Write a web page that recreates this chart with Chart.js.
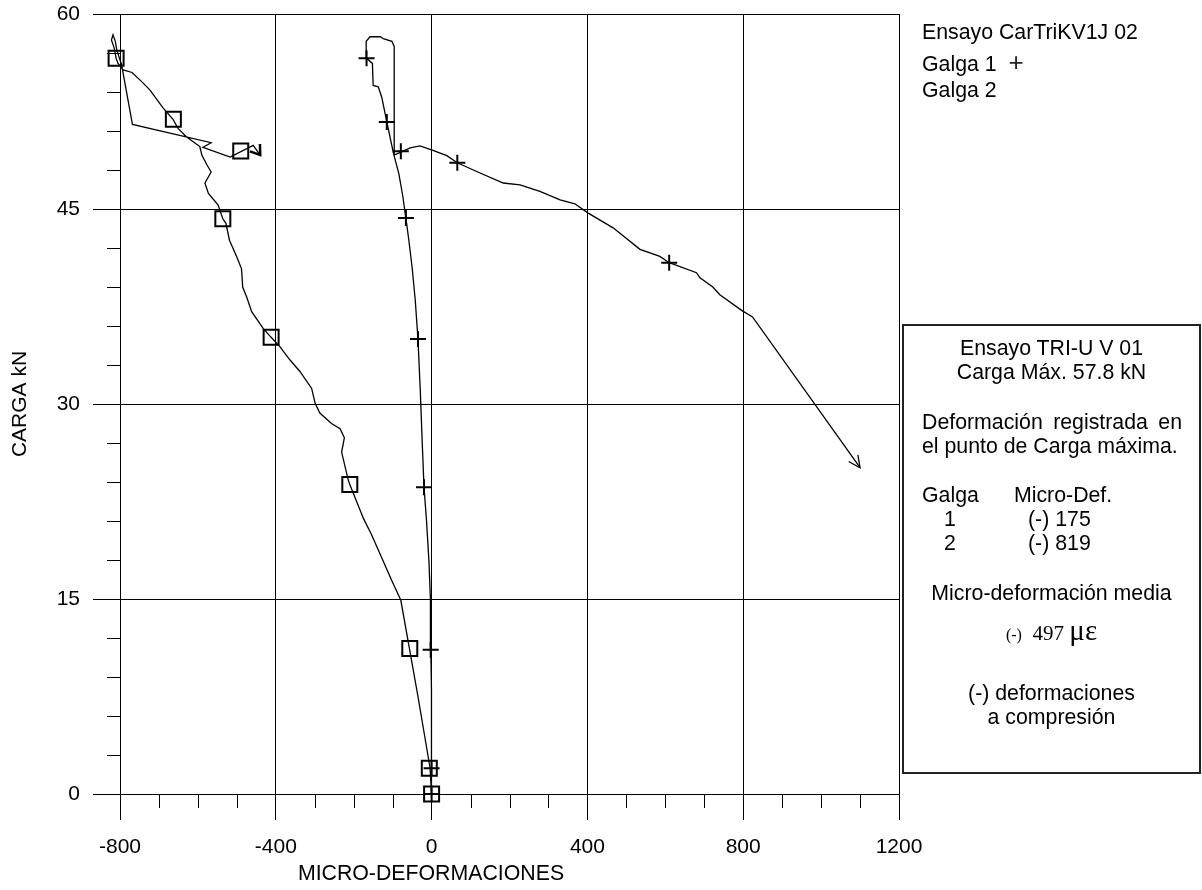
<!DOCTYPE html>
<html>
<head>
<meta charset="utf-8">
<script src="https://cdn.jsdelivr.net/npm/chart.js@4.4.1/dist/chart.umd.min.js"></script>
<style>
  html, body { margin: 0; padding: 0; background: #fff; }
  #wrap { position: relative; width: 1202px; height: 890px; overflow: hidden; }
  #c { position: absolute; left: 0; top: 0; }
  .t { position: absolute; font-family: 'Liberation Sans', Arial, sans-serif; font-size: 21.3px; line-height: 24px; height: 24px; white-space: nowrap; color: #000; }
  .ctr { left: 902px; width: 299px; text-align: center; }
  #box { position: absolute; left: 902px; top: 324px; width: 299px; height: 450px; box-sizing: border-box; border: 2px solid #222; }
</style>
</head>
<body>
<div id="wrap">
  <canvas id="c" width="1202" height="890"></canvas>

  <div class="t" style="left:922px;top:20px">Ensayo CarTriKV1J 02</div>
  <div class="t" style="left:922px;top:50px">Galga 1&nbsp;&nbsp;<span style="font-size:26px;font-weight:100;color:#222">+</span></div>
  <div class="t" style="left:922px;top:78px">Galga 2</div>

  <div id="box"></div>
  <div class="t ctr" style="top:336px">Ensayo TRI-U V 01</div>
  <div class="t ctr" style="top:360px">Carga Máx. 57.8 kN</div>
  <div class="t" style="left:922px;top:410px;width:260px;text-align:justify;text-align-last:justify">Deformación registrada en</div>
  <div class="t" style="left:922px;top:434px">el punto de Carga máxima.</div>
  <div class="t" style="left:922px;top:483px">Galga</div>
  <div class="t" style="left:1014px;top:483px">Micro-Def.</div>
  <div class="t" style="left:944px;top:507px">1</div>
  <div class="t" style="left:1028px;top:507px">(-) 175</div>
  <div class="t" style="left:944px;top:531px">2</div>
  <div class="t" style="left:1028px;top:531px">(-) 819</div>
  <div class="t ctr" style="top:581px">Micro-deformación media</div>
  <div class="t ctr" style="top:615px;font-family:'Liberation Serif','Times New Roman',serif;height:30px;line-height:30px"><span style="font-size:16px">(-)</span>&nbsp; <span style="font-size:21px">497</span> <span style="font-size:29px">με</span></div>
  <div class="t ctr" style="top:681px">(-) deformaciones</div>
  <div class="t ctr" style="top:705px">a compresión</div>

  <div class="t" style="left:231px;width:400px;text-align:center;top:861px">MICRO-DEFORMACIONES</div>
</div>

<script>
// ---------------- DATA ----------------
// Galga 1 (strain, load kN) in time order
const galga1X = [0, 0, 0, -1, -2, -3, -7, -13, -19.5, -24, -29, -35, -42, -50, -58, -66, -74, -84, -98, -115, -128, -137, -150, -152, -167, -168, -158, -132, -124, -102, -96, -96, -77, -55, -30, 0, 39, 66, 107, 184, 227, 278, 330, 368, 401, 466, 535, 586, 610, 680, 689, 722, 740, 796, 824, 1100];
const galga1Y = [0, 2, 5, 8, 11.1, 15, 18, 21, 23.6, 27, 31, 35, 38, 40.5, 42.5, 44.3, 46, 47.7, 49.3, 51.7, 53.6, 54.4, 54.5, 56.2, 56.6, 57.9, 58.25, 58.25, 58.1, 57.9, 57.5, 49.15, 49.4, 49.7, 49.85, 49.55, 49.1, 48.56, 48.0, 47.0, 46.85, 46.35, 45.7, 45.4, 44.7, 43.55, 41.9, 41.35, 40.87, 40.1, 39.7, 39.0, 38.4, 37.2, 36.7, 25.1];

// Galga 2 (strain, load kN) in time order
const galga2X = [0, -4, -18, -35, -57, -79, -105, -130, -155, -175, -210, -214, -231, -224, -235, -257, -287, -299, -308, -338, -364, -389, -412, -432, -462, -475, -485, -488, -500, -519, -528, -536, -548, -573, -582, -566, -577, -590, -595, -613, -631, -651, -664, -690, -723, -741, -769, -792, -805, -810, -815, -822, -818, -812, -808, -796, -768, -566, -587, -517, -458, -440];
const galga2Y = [0, 2, 4.5, 7.5, 11.2, 14.9, 16.6, 18.3, 20, 21.2, 23.8, 24.15, 26.3, 27.4, 28.1, 28.5, 29.3, 30.05, 31.2, 32.5, 33.4, 34.4, 35.13, 35.8, 37.1, 38.25, 39.0, 40.4, 41.3, 42.6, 43.9, 44.25, 45.3, 46.2, 47.0, 47.85, 48.4, 49.15, 49.8, 50.2, 50.6, 51.2, 51.9, 52.8, 54.15, 54.7, 55.5, 55.7, 56.2, 56.6, 57.4, 58.0, 58.4, 57.9, 57.2, 56.1, 51.5, 50.1, 49.75, 49.0, 49.9, 49.15];

// Marker points (symbols on the curves)
const marker1X = [0, 0, -2.3, -19.5, -35, -66, -115, -167, -79, 66, 610];
const marker1Y = [0, 1.98, 11.1, 23.6, 35, 44.3, 51.7, 56.6, 49.45, 48.56, 40.87];
const marker2X = [0, -5.9, -56, -210, -412, -536, -663, -810, -490];
const marker2Y = [0, 1.98, 11.2, 23.8, 35.13, 44.25, 51.9, 56.6, 49.46];

// Axis ticks
const xMin = -800, xMax = 1200, xMajorStep = 400, xMinorStep = 100;
const yMin = 0, yMax = 60, yMajorStep = 15, yMinorStep = 3;
const xAxisTitle = 'MICRO-DEFORMACIONES';
const yAxisTitle = 'CARGA kN';

// ---------------- CHART ----------------
const pts = (xs, ys) => xs.map((x, i) => ({ x: x, y: ys[i] }));

Chart.defaults.font.family = "'Liberation Sans', Arial, sans-serif";
Chart.defaults.font.size = 21;
Chart.defaults.color = '#000';

const minorTicks = {
  id: 'minorTicks',
  afterDraw(chart) {
    const ctx = chart.ctx, xs = chart.scales.x, ys = chart.scales.y;
    const a = chart.chartArea;
    ctx.save();
    ctx.strokeStyle = '#000';
    ctx.lineWidth = 1;
    ctx.beginPath();
    for (let v = xMin; v <= xMax; v += xMinorStep) {
      if (v % xMajorStep === 0) continue;
      const px = Math.round(xs.getPixelForValue(v)) + 0.5;
      ctx.moveTo(px, a.bottom);
      ctx.lineTo(px, a.bottom + 14);
    }
    for (let v = yMin; v <= yMax; v += yMinorStep) {
      if (v % yMajorStep === 0) continue;
      const py = Math.round(ys.getPixelForValue(v)) + 0.5;
      ctx.moveTo(a.left - 13, py);
      ctx.lineTo(a.left, py);
    }
    ctx.stroke();
    ctx.restore();
  }
};

const arrowHeads = {
  id: 'arrowHeads',
  afterDatasetsDraw(chart) {
    const ctx = chart.ctx;
    chart.data.datasets.forEach((ds, i) => {
      if (!ds.arrow) return;
      const els = chart.getDatasetMeta(i).data;
      const n = els.length;
      const tip = els[n - 1], prev = els[n - 2];
      const ang = Math.atan2(tip.y - prev.y, tip.x - prev.x);
      const L = ds.arrow.len, w = ds.arrow.spread;
      ctx.save();
      ctx.strokeStyle = '#000';
      ctx.lineWidth = ds.arrow.width;
      ctx.beginPath();
      ctx.moveTo(tip.x - L * Math.cos(ang - w), tip.y - L * Math.sin(ang - w));
      ctx.lineTo(tip.x, tip.y);
      ctx.lineTo(tip.x - L * Math.cos(ang + w), tip.y - L * Math.sin(ang + w));
      ctx.stroke();
      ctx.restore();
    });
  }
};

new Chart(document.getElementById('c'), {
  type: 'scatter',
  data: {
    datasets: [
      { label: 'Galga 1', data: pts(galga1X, galga1Y), showLine: true, borderColor: '#000', borderWidth: 1.3, pointRadius: 0, tension: 0, clip: false, arrow: { len: 13, spread: 0.45, width: 1.3 } },
      { label: 'Galga 2', data: pts(galga2X, galga2Y), showLine: true, borderColor: '#000', borderWidth: 1.3, pointRadius: 0, tension: 0, clip: false, arrow: { len: 11, spread: 0.6, width: 2.5 } },
      { label: 'Galga 1 marcas', data: pts(marker1X, marker1Y), showLine: false, pointStyle: 'cross', pointRadius: 8, pointBorderWidth: 2, pointBorderColor: '#000', clip: false },
      { label: 'Galga 2 marcas', data: pts(marker2X, marker2Y), showLine: false, pointStyle: 'rect', pointRadius: 10.6, pointBorderWidth: 2, pointBorderColor: '#000', pointBackgroundColor: 'rgba(0,0,0,0)', clip: false }
    ]
  },
  options: {
    responsive: false,
    animation: false,
    devicePixelRatio: 1,
    events: [],
    layout: { padding: { left: 0, top: 14, right: 303, bottom: 0 } },
    plugins: { legend: { display: false }, tooltip: { enabled: false } },
    scales: {
      x: {
        type: 'linear', position: 'bottom', min: xMin, max: xMax,
        ticks: { stepSize: xMajorStep, padding: 15, maxRotation: 0, autoSkip: false, color: '#000', font: { size: 21 }, callback: (v) => String(v) },
        grid: { color: '#000', lineWidth: 1, tickLength: 26, tickColor: '#000' },
        border: { color: '#000', width: 1 },
        title: { display: false, text: xAxisTitle },
        afterFit(s) { s.height = 96; s.paddingLeft = 0; s.paddingRight = 0; s.paddingTop = 0; s.paddingBottom = 0; }
      },
      y: {
        type: 'linear', position: 'left', min: yMin, max: yMax,
        ticks: { stepSize: yMajorStep, padding: 13, color: '#000', font: { size: 21 }, callback: (v) => String(v) },
        grid: { color: '#000', lineWidth: 1, tickLength: 27, tickColor: '#000' },
        border: { color: '#000', width: 1 },
        title: { display: true, text: yAxisTitle, color: '#000', font: { size: 21 }, padding: { top: 8, bottom: 0 } },
        afterFit(s) { s.width = 120; s.paddingTop = 0; s.paddingBottom = 0; s.paddingLeft = 0; s.paddingRight = 0; }
      }
    }
  },
  plugins: [minorTicks, arrowHeads]
});
</script>
</body>
</html>
